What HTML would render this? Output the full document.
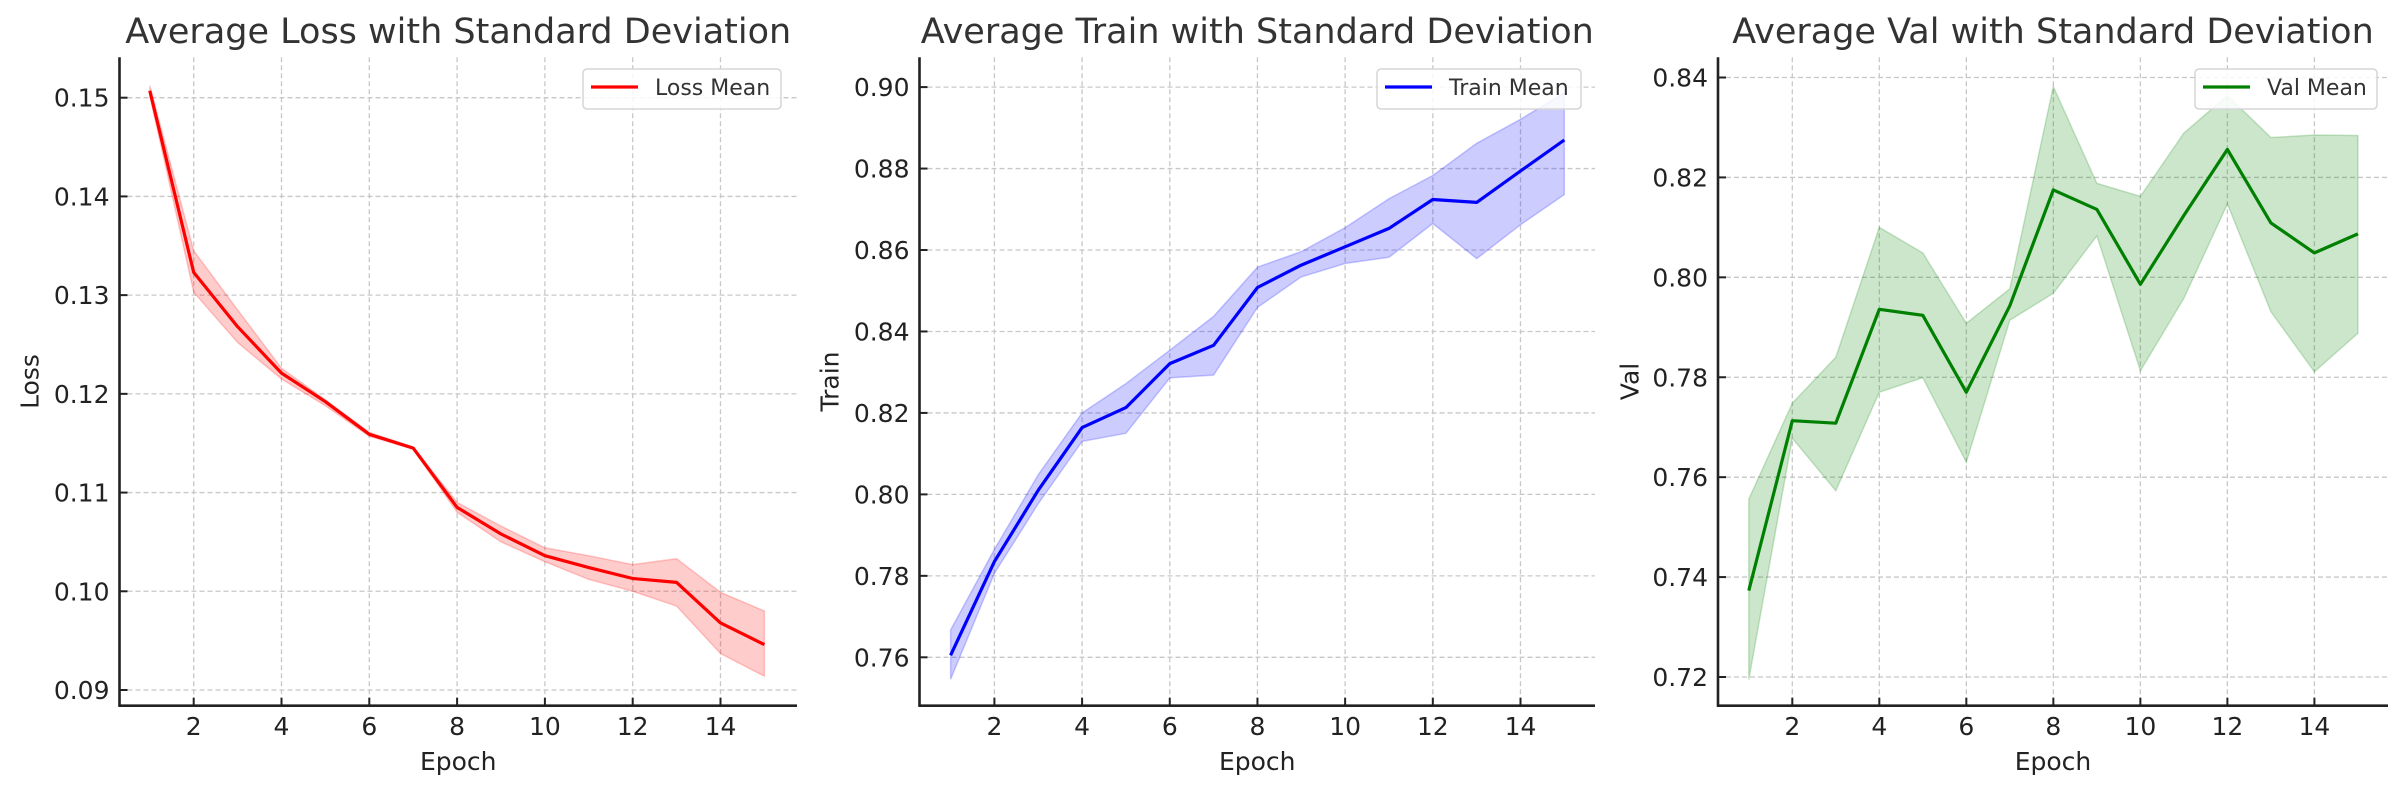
<!DOCTYPE html>
<html><head><meta charset="utf-8">
<style>
html,body{margin:0;padding:0;background:#fff;}
svg{display:block;font-family:"DejaVu Sans","Liberation Sans",sans-serif;}
</style></head>
<body>
<svg id="fig" width="2407" height="792" viewBox="0 0 2407 792" xmlns="http://www.w3.org/2000/svg"></svg>
<script>
const epochs = [1,2,3,4,5,6,7,8,9,10,11,12,13,14,15];
const xTicks = [2,4,6,8,10,12,14];

const lossMean  = [0.1507,0.1323,0.1268,0.1221,0.1192,0.1159,0.1145,0.1085,0.1058,0.1036,0.1024,0.1013,0.1009,0.0968,0.0946];
const lossUpper = [0.1512,0.1345,0.1285,0.1226,0.1194,0.1161,0.1146,0.1090,0.1066,0.1044,0.1036,0.1027,0.1033,0.0999,0.0980];
const lossLower = [0.1502,0.1303,0.1252,0.1215,0.1188,0.1157,0.1144,0.1080,0.1050,0.1030,0.1012,0.1000,0.0985,0.0937,0.0914];
const lossTicks = [0.09,0.10,0.11,0.12,0.13,0.14,0.15];

const trainMean  = [0.7605,0.7835,0.8010,0.8164,0.8213,0.8321,0.8366,0.8508,0.8563,0.8608,0.8653,0.8724,0.8717,0.8794,0.8870];
const trainUpper = [0.7667,0.7865,0.8048,0.8200,0.8272,0.8354,0.8437,0.8558,0.8596,0.8655,0.8726,0.8783,0.8862,0.8921,0.8986];
const trainLower = [0.7546,0.7806,0.7977,0.8130,0.8150,0.8286,0.8293,0.8459,0.8534,0.8567,0.8582,0.8665,0.8579,0.8662,0.8736];
const trainTicks = [0.76,0.78,0.80,0.82,0.84,0.86,0.88,0.90];

const valMean  = [0.7373,0.7713,0.7708,0.7936,0.7924,0.7770,0.7943,0.8175,0.8136,0.7986,0.8124,0.8256,0.8109,0.8049,0.8087];
const valUpper = [0.7556,0.7748,0.7840,0.8100,0.8049,0.7908,0.7977,0.8382,0.8188,0.8162,0.8289,0.8364,0.8280,0.8285,0.8284];
const valLower = [0.7195,0.7678,0.7573,0.7770,0.7799,0.7630,0.7914,0.7968,0.8083,0.7813,0.7958,0.8147,0.7931,0.7811,0.7888];
const valTicks = [0.72,0.74,0.76,0.78,0.80,0.82,0.84];

const NS = "http://www.w3.org/2000/svg";
const svg = document.getElementById('fig');
function mk(tag, attrs, parent){
  const e = document.createElementNS(NS, tag);
  for (const k in attrs) e.setAttribute(k, attrs[k]);
  (parent||svg).appendChild(e);
  return e;
}

const panels = [
  {key:'loss', title:'Average Loss with Standard Deviation', ylabel:'Loss', legend:'Loss Mean', color:'#ff0000', fill:'rgba(255,0,0,0.2)',
   mean:lossMean, up:lossUpper, lo:lossLower, ticks:lossTicks, dec:2,
   left:119.5, right:797, x2:193.7, x14:720.5, yA:0.15, pA:97.7, yB:0.09, pB:690, legR:781, ylx:30},
  {key:'train', title:'Average Train with Standard Deviation', ylabel:'Train', legend:'Train Mean', color:'#0000ff', fill:'rgba(0,0,255,0.2)',
   mean:trainMean, up:trainUpper, lo:trainLower, ticks:trainTicks, dec:2,
   left:919.5, right:1595, x2:994.4, x14:1520.5, yA:0.90, pA:87.1, yB:0.76, pB:657.3, legR:1581, ylx:830},
  {key:'val', title:'Average Val with Standard Deviation', ylabel:'Val', legend:'Val Mean', color:'#008000', fill:'rgba(0,128,0,0.2)',
   mean:valMean, up:valUpper, lo:valLower, ticks:valTicks, dec:2,
   left:1718, right:2388, x2:1792.3, x14:2314.4, yA:0.84, pA:77.5, yB:0.72, pB:677, legR:2377, ylx:1630}
];
const TOP = 57.3, BOT = 705.7;

panels.forEach(p => {
  const g = mk('g', {});
  
  
  const xs = e => p.x2 + (e - 2) * (p.x14 - p.x2) / 12;
  const ys = v => p.pA + (v - p.yA) * (p.pB - p.pA) / (p.yB - p.yA);

  // grid
  xTicks.forEach(t => {
    const l = mk('line', {x1:xs(t), x2:xs(t), y1:TOP, y2:BOT, stroke:'#c8c8c8', 'stroke-width':1.3, 'stroke-dasharray':'5,3'}, g);
    
    
  });
  p.ticks.forEach(t => {
    const l = mk('line', {x1:p.left, x2:p.right, y1:ys(t), y2:ys(t), stroke:'#c8c8c8', 'stroke-width':1.3, 'stroke-dasharray':'5,3'}, g);
    
    
  });

  // band
  let d = '';
  epochs.forEach((e,i) => { d += (i ? 'L' : 'M') + xs(e).toFixed(1) + ',' + ys(p.up[i]).toFixed(1); });
  for (let i = epochs.length - 1; i >= 0; i--) d += 'L' + xs(epochs[i]).toFixed(1) + ',' + ys(p.lo[i]).toFixed(1);
  d += 'Z';
  const band = mk('path', {d:d, fill:p.fill, stroke:p.fill, 'stroke-width':1.5}, g);
  
  

  // mean line
  const pts = epochs.map((e,i) => xs(e).toFixed(1) + ',' + ys(p.mean[i]).toFixed(1)).join(' ');
  const line = mk('polyline', {points:pts, fill:'none', stroke:p.color, 'stroke-width':3.2, 'stroke-linejoin':'round'}, g);
  
  

  // spines
  const sp1 = mk('line', {x1:p.left, x2:p.left, y1:TOP, y2:BOT+1, stroke:'#222', 'stroke-width':2.6}, g);
  
  
  const sp2 = mk('line', {x1:p.left-1, x2:p.right, y1:BOT, y2:BOT, stroke:'#222', 'stroke-width':2.6}, g);
  
  

  // ticks
  xTicks.forEach(t => {
    mk('line', {x1:xs(t), x2:xs(t), y1:BOT, y2:BOT-8, stroke:'#222', 'stroke-width':2}, g);
    const tx = mk('text', {x:xs(t), y:735, 'text-anchor':'middle', 'font-size':25, fill:'#222'}, g);
    tx.textContent = t;
    
    
  });
  p.ticks.forEach(t => {
    mk('line', {x1:p.left, x2:p.left+8, y1:ys(t), y2:ys(t), stroke:'#222', 'stroke-width':2}, g);
    const tx = mk('text', {x:p.left-10, y:ys(t)+9, 'text-anchor':'end', 'font-size':25, fill:'#222'}, g);
    tx.textContent = t.toFixed(p.dec);
    
    
  });

  // titles/labels
  const ti = mk('text', {x:(p.left+p.right)/2, y:43, 'text-anchor':'middle', 'font-size':35, fill:'#333'}, g);
  ti.textContent = p.title;
  
  
  const xl = mk('text', {x:(p.left+p.right)/2, y:770, 'text-anchor':'middle', 'font-size':25, fill:'#222'}, g);
  xl.textContent = 'Epoch';
  
  
  const cy = (TOP+BOT)/2;
  const yl = mk('text', {x:p.ylx, y:cy, 'text-anchor':'middle', 'font-size':25, fill:'#222', transform:'rotate(-90 '+p.ylx+' '+cy+')', 'dominant-baseline':'central'}, g);
  yl.textContent = p.ylabel;
  
  

  // legend
  const lw = p.key === 'train' ? 204 : (p.key === 'val' ? 182 : 198);
  const lg = mk('g', {}, g);
  
  
  mk('rect', {x:p.legR-lw, y:69, width:lw, height:40, rx:4, fill:'rgba(255,255,255,0.85)', stroke:'#d5d5d5', 'stroke-width':1.5}, lg);
  mk('line', {x1:p.legR-lw+8, x2:p.legR-lw+55, y1:87, y2:87, stroke:p.color, 'stroke-width':3.2}, lg);
  const lt = mk('text', {x:p.legR-lw+72, y:95, 'font-size':22, fill:'#333'}, lg);
  lt.textContent = p.legend;
});
</script>
</body></html>
